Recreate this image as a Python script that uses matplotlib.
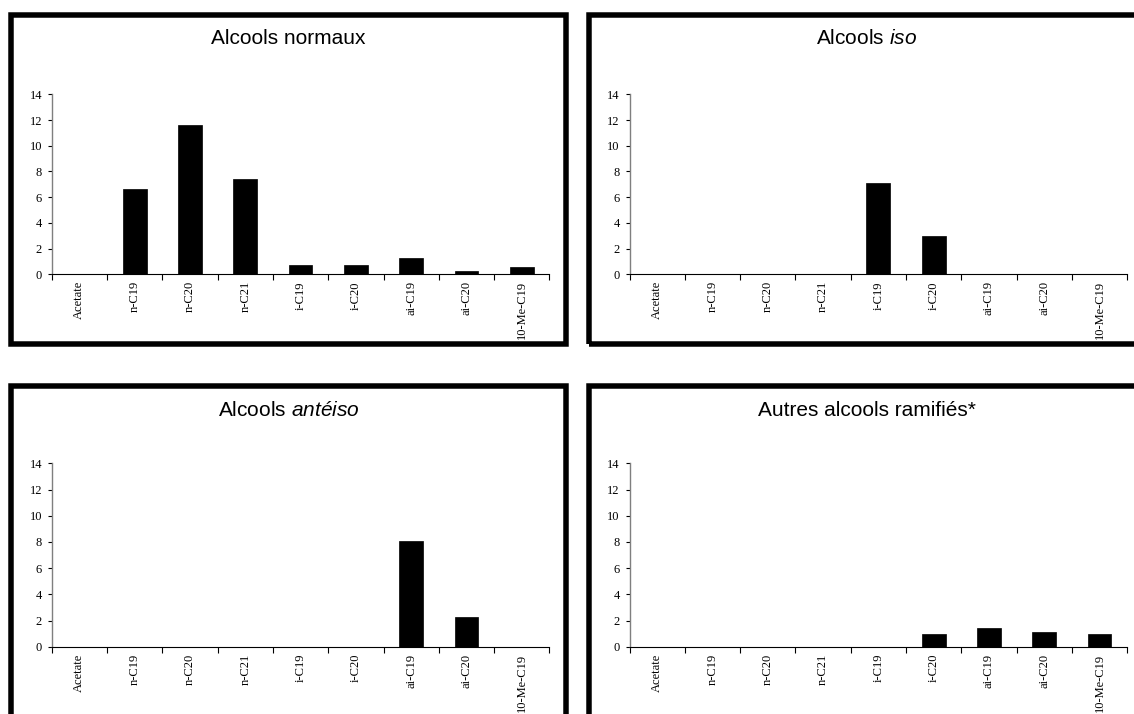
import matplotlib
matplotlib.use("Agg")
import matplotlib.pyplot as plt
from matplotlib.patches import Rectangle
import numpy as np

plt.rcParams['mathtext.fontset'] = 'custom'
plt.rcParams['mathtext.rm'] = 'Liberation Sans'
plt.rcParams['mathtext.it'] = 'Liberation Sans:italic'

categories = ["Acetate", "n-C19", "n-C20", "n-C21", "i-C19", "i-C20",
              "ai-C19", "ai-C20", "10-Me-C19"]

normaux = [0, 6.6, 11.6, 7.4, 0.75, 0.75, 1.3, 0.25, 0.55]
iso = [0, 0, 0, 0, 7.1, 2.95, 0, 0, 0]
anteiso = [0, 0, 0, 0, 0, 0, 8.05, 2.25, 0]
autres = [0, 0, 0, 0, 0, 0.95, 1.45, 1.15, 0.95]

titles = ["Alcools normaux", r"Alcools $\it{iso}$",
          r"Alcools $\it{antéiso}$", "Autres alcools ramifiés*"]
series = [normaux, iso, anteiso, autres]
yticks = [0, 2, 4, 6, 8, 10, 12, 14]

W, H = 1134, 714
fig = plt.figure(figsize=(W / 100, H / 100), dpi=100)

def fx(px):
    return px / W

def fy(py):
    return 1 - py / H

# panel layouts in pixels: (frame_left, frame_top, frame_right, frame_bottom, ax_left, ax_right, y0, y14, title_y)
panels = [
    (8, 12, 569, 347, 51.7, 549.4, 274.3, 94.3, 39),
    (586, 12, 1147, 347, 629.5, 1127.2, 274.3, 94.3, 39),
    (8, 383, 569, 730, 51.7, 549.4, 646.7, 463.3, 411),
    (586, 383, 1147, 730, 629.5, 1127.2, 646.7, 463.3, 411),
]

lw_px = 5.5
lw_pt = lw_px * 72 / 100
tick_fs = 9.0

for (fl, ft, fr, fb, al, ar, y0, y14, ty), vals, title in zip(panels, series, titles):
    # frame
    rect = Rectangle((fx(fl + lw_px / 2), fy(fb - lw_px / 2)),
                     fx(fr - fl - lw_px), (fb - ft - lw_px) / H,
                     transform=fig.transFigure, fill=False,
                     edgecolor='black', linewidth=lw_pt, zorder=10)
    fig.patches.append(rect)

    ax = fig.add_axes([fx(al), fy(y0), fx(ar - al), (y0 - y14) / H])
    x = np.arange(len(categories))
    ax.bar(x, vals, width=0.43, color='black', edgecolor='black', linewidth=0.5)
    ax.set_xlim(-0.5, len(categories) - 0.5)
    ax.set_ylim(0, 14)
    ax.set_yticks(yticks)
    ax.set_yticklabels([str(v) for v in yticks], fontfamily='Liberation Serif', fontsize=tick_fs)
    ax.set_xticks(x)
    ax.set_xticklabels(categories, rotation=90, fontfamily='Liberation Serif',
                       fontsize=tick_fs, va='top', ha='center')
    ax.set_xticks(np.arange(-0.5, len(categories)), minor=True)
    ax.tick_params(axis='x', which='major', length=0, pad=5)
    ax.tick_params(axis='x', which='minor', length=4, width=0.8, direction='out', color='black')
    ax.tick_params(axis='y', which='major', length=3, width=0.8, direction='out', pad=4, color='black')
    for s in ['top', 'right']:
        ax.spines[s].set_visible(False)
    ax.spines['left'].set_color('#7f7f7f')
    ax.spines['left'].set_linewidth(1.0)
    ax.spines['bottom'].set_color('black')
    ax.spines['bottom'].set_linewidth(0.8)
    ax.patch.set_alpha(0)

    fig.text(fx((fl + fr) / 2), fy(ty), title, ha='center', va='center',
             fontfamily='Liberation Sans', fontsize=15)

fig.savefig("out.png", dpi=100, facecolor='white')
